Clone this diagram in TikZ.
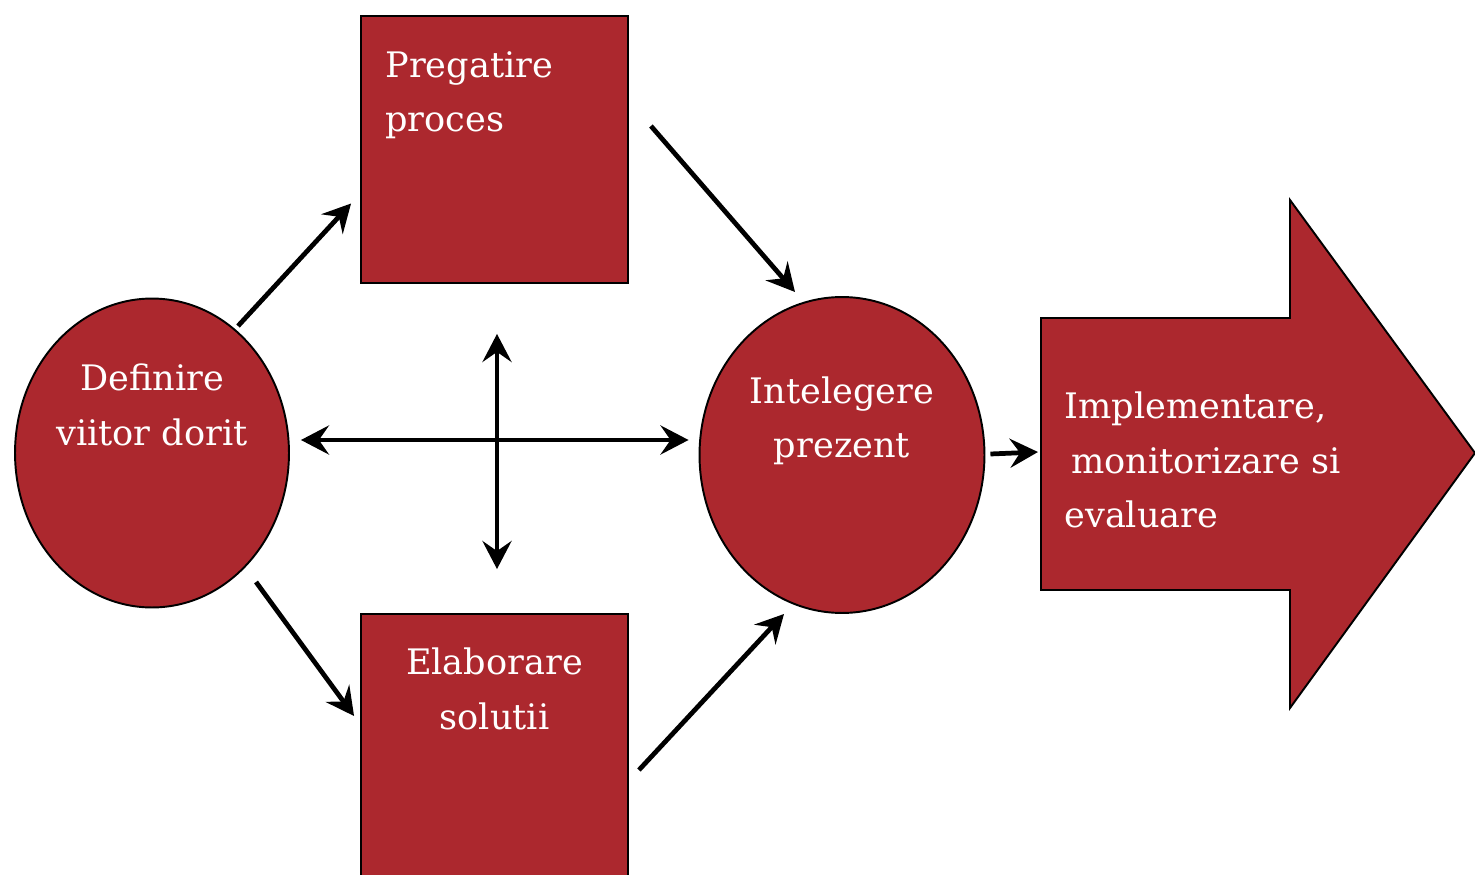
\documentclass[tikz,border=0pt]{standalone}
\usepackage{fontspec}
\setmainfont{DejaVu Serif}
\usetikzlibrary{shapes.geometric, arrows.meta, positioning, calc}
\definecolor{stepred}{RGB}{172, 40, 46}

\tikzset{
  redfill/.style={draw=black, line width=1.1pt, fill=stepred},
  roundstep/.style={redfill, ellipse, inner sep=0pt},
  squarestep/.style={redfill, rectangle, inner sep=0pt, minimum width=5.34cm, minimum height=5.34cm},
  lbl/.style={text=white, inner sep=0pt, font={\fontsize{20}{31}\selectfont}},
  conn/.style={line width=2.7pt, -{Stealth[length=0.56cm, width=0.58cm, inset=0.2cm]}},
  twoway/.style={line width=2.7pt, {Stealth[length=0.56cm, width=0.58cm, inset=0.2cm]}-{Stealth[length=0.56cm, width=0.58cm, inset=0.2cm]}}
}

\begin{document}
\begin{tikzpicture}[x=0.02cm, y=-0.02cm]
  \useasboundingbox (0,0) rectangle (1475,875);

  % The two ellipses
  \node[roundstep, minimum width=5.48cm, minimum height=6.18cm,
        label={[lbl, align=center, anchor=center, shift={(0,-48)}]center:Definire\\viitor dorit}]
        (def) at (152,453) {};
  \node[roundstep, minimum width=5.7cm, minimum height=6.32cm,
        label={[lbl, align=center, anchor=center, shift={(0,-34)}]center:Intelegere\\prezent}]
        (int) at (842,455) {};

  % The two squares
  \node[squarestep, label={[lbl, align=left, anchor=west, shift={(25,80)}]north west:Pregatire\\proces}]
        (prep) at (494.5,149.5) {};
  \node[squarestep, label={[lbl, align=center, anchor=center, shift={(0,76)}]north:Elaborare\\solutii}]
        (elab) at (494.5,747.5) {};

  % Big arrow
  \draw[redfill] (1041,318) -- (1290,318) -- (1290,200) -- (1475,453)
    -- (1290,708) -- (1290,590) -- (1041,590) -- cycle;
  \coordinate (impl) at (1041,454);
  \node[lbl, align=left, anchor=west] (impltext) at ([shift={(23,6)}]impl)
    {Implementare,\\\hspace*{0.14cm}monitorizare si\\evaluare};

  % Connectors
  \draw[conn] ([shift={(86,-127)}]def.center) -- ([shift={(-9,54)}]prep.west);
  \draw[conn] ([shift={(22,-23.5)}]prep.east) -- ([shift={(-47,-163)}]int.center);
  \draw[conn] ([shift={(104,129)}]def.center) -- ([shift={(-6,-31.5)}]elab.west);
  \draw[conn] ([shift={(10,22.5)}]elab.east) -- ([shift={(-58,159)}]int.center);
  \draw[twoway] ([shift={(11,-13)}]def.east) -- ([shift={(-10,-15)}]int.west);
  \draw[twoway] ([shift={(2.5,50)}]prep.south) -- ([shift={(2.5,-44)}]elab.north);
  \draw[conn] ([shift={(5,-1)}]int.east) -- ([shift={(-3,-2)}]impl);
\end{tikzpicture}
\end{document}
